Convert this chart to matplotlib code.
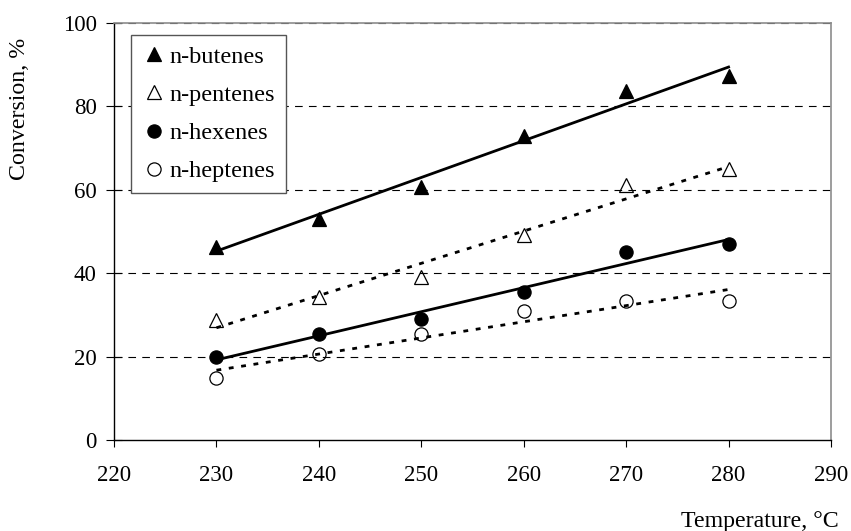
import numpy as np
import matplotlib
matplotlib.use("Agg")
import matplotlib.pyplot as plt
from matplotlib.lines import Line2D

plt.rcParams['font.family'] = ['Liberation Serif', 'DejaVu Serif']
plt.rcParams['lines.scale_dashes'] = False

# Reaction temperature, °C
temps = [230, 240, 250, 260, 270, 280]

# Conversion of each olefin, %
butenes = [46.4, 53.1, 60.6, 73.0, 83.8, 87.3]
pentenes = [28.8, 34.4, 39.1, 49.1, 61.1, 64.9]
hexenes = [19.9, 25.3, 28.9, 35.6, 45.1, 47.1]
heptenes = [14.9, 20.7, 25.3, 31.0, 33.3, 33.3]

labels = ["n-butenes", "n-pentenes", "n-hexenes", "n-heptenes"]
x_ticks = [220, 230, 240, 250, 260, 270, 280, 290]
y_ticks = [0, 20, 40, 60, 80, 100]

FS = 16.5
FS_LABEL = 17.2
FS_LEG = 17.5
fig = plt.figure(figsize=(8.51, 5.31), dpi=100)
ax = fig.add_axes([114 / 851, 1 - 440 / 531, 717 / 851, 417 / 531])

ax.set_xlim(220, 290)
ax.set_ylim(0, 100)
ax.set_xticks(x_ticks)
ax.set_yticks(y_ticks)
ax.tick_params(axis='x', direction='out', length=5, width=0.8, pad=13, labelsize=FS)
ax.tick_params(axis='y', direction='inout', length=11, width=0.8, pad=7, labelsize=FS)

for y in y_ticks[1:]:
    ax.axhline(y, color='black', lw=0.8, linestyle=(0, (5.5, 4.5)), zorder=0)

for side in ('top', 'right'):
    ax.spines[side].set_color('#8c8c8c')
    ax.spines[side].set_linewidth(1.2)
for side in ('left', 'bottom'):
    ax.spines[side].set_color('black')
    ax.spines[side].set_linewidth(1.0)

series = [
    (butenes, dict(marker='^', mfc='black', mec='black'), '-'),
    (pentenes, dict(marker='^', mfc='none', mec='black'), (0, (3.5, 5.5))),
    (hexenes, dict(marker='o', mfc='black', mec='black'), '-'),
    (heptenes, dict(marker='o', mfc='none', mec='black'), (0, (3.5, 5.5))),
]

x = np.array(temps, dtype=float)
handles = []
for (vals, mstyle, ls), lab in zip(series, labels):
    ax.plot(temps, vals, linestyle='none', ms=9.5, mew=0.9, zorder=3, **mstyle)
    k, b = np.polyfit(x, np.array(vals), 1)
    xf = np.array([x.min(), x.max()])
    ax.plot(xf, k * xf + b, color='black', lw=2.0, linestyle=ls, zorder=4)
    handles.append(Line2D([], [], linestyle='none', ms=9.5, mew=0.9, **mstyle))

leg = ax.legend(handles, labels, loc='upper left',
                bbox_to_anchor=(16.7 / 717, (440 - 35) / 417), borderaxespad=0,
                fontsize=FS_LEG, frameon=True, fancybox=False, edgecolor='#555555',
                framealpha=1, handlelength=1.0, handletextpad=0.14,
                borderpad=0.45, labelspacing=0.66)
leg.get_frame().set_linewidth(1.0)

fig.text(20 / 851, 1 - 109 / 531, "Conversion, %", rotation=90,
         ha='center', va='center', fontsize=FS_LABEL)
fig.text(839 / 851, 1 - 527 / 531, "Temperature, °C", ha='right',
         va='baseline', fontsize=FS_LABEL)

fig.savefig("out.png", dpi=100)
